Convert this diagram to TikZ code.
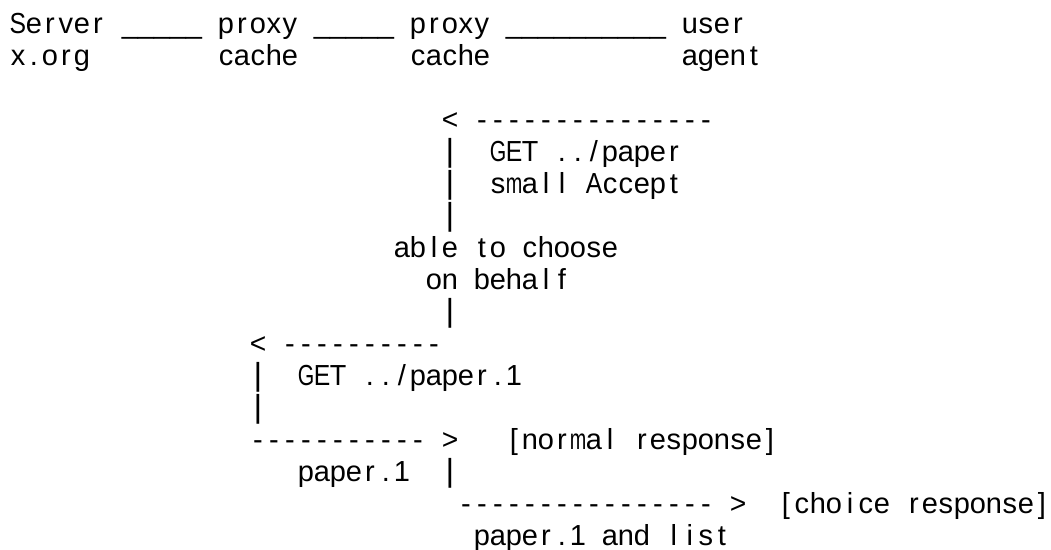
\documentclass[tikz,border=0pt]{standalone}
\usepackage{fontspec}
\usepackage{graphicx}
\setmainfont{Liberation Sans}
\newlength\cw \setlength\cw{16pt}
\newlength\maxw \setlength\maxw{16.5pt}
\newcommand\us{\textunderscore}
\newcommand\vb{\scalebox{1.15}[1.1]{|}}
\def\cellloop#1{\ifx#1\relax\else\cellbox{#1}\expandafter\cellloop\fi}
\newcommand\cells[1]{\cellloop#1\relax}
\newcommand\cellbox[1]{\ifx#1@\hbox to\cw{\hss}\else\setbox0=\hbox{#1}\ifdim\wd0>\maxw\relax\hbox to\cw{\hss\resizebox{\maxw}{\height}{#1}\hss}\else\hbox to\cw{\hss\box0\hss}\fi\fi}
\begin{document}
\begin{tikzpicture}[x=16pt,y=-32pt,
  t/.style={anchor=base west,inner sep=0pt,outer sep=0pt,font=\fontsize{29}{32}\selectfont}]
\useasboundingbox[fill=white] (-10pt,33pt) rectangle (1041pt,-516pt);
% row 0
\node[t] (server) at (0,0) {\cells{Server}};
\node[t] (l1) at (7,0) {\cells{\us\us\us\us\us}};
\node[t] (proxyA) at (13,0) {\cells{proxy}};
\node[t] (l2) at (19,0) {\cells{\us\us\us\us\us}};
\node[t] (proxyB) at (25,0) {\cells{proxy}};
\node[t] (l3) at (31,0) {\cells{\us\us\us\us\us\us\us\us\us\us}};
\node[t] (user) at (42,0) {\cells{user}};
% row 1
\node[t] (xorg) at (0,1) {\cells{x.org}};
\node[t] (cacheA) at (13,1) {\cells{cache}};
\node[t] (cacheB) at (25,1) {\cells{cache}};
\node[t] (agent) at (42,1) {\cells{agent}};
% request 1
\node[t] (lt1) at (27,3) {\cells{<}};
\node[t] (d1) at (29,3) {\cells{---------------}};
\node[t] (b1) at (27,4) {\cells{\vb}};
\node[t] (get1) at (30,4) {\cells{GET@../paper}};
\node[t] (b2) at (27,5) {\cells{\vb}};
\node[t] (acc) at (30,5) {\cells{small@Accept}};
\node[t] (b3) at (27,6) {\cells{\vb}};
\node[t] (able) at (24,7) {\cells{able@to@choose}};
\node[t] (behalf) at (26,8) {\cells{on@behalf}};
\node[t] (b4) at (27,9) {\cells{\vb}};
% request 2
\node[t] (lt2) at (15,10) {\cells{<}};
\node[t] (d2) at (17,10) {\cells{----------}};
\node[t] (b5) at (15,11) {\cells{\vb}};
\node[t] (get2) at (18,11) {\cells{GET@../paper.1}};
\node[t] (b6) at (15,12) {\cells{\vb}};
% responses
\node[t] (d3) at (15,13) {\cells{-----------}};
\node[t] (gt1) at (27,13) {\cells{>}};
\node[t] (normal) at (31,13) {\cells{[normal@response]}};
\node[t] (p1) at (18,14) {\cells{paper.1}};
\node[t] (b7) at (27,14) {\cells{\vb}};
\node[t] (d4) at (28,15) {\cells{----------------}};
\node[t] (gt2) at (45,15) {\cells{>}};
\node[t] (choice) at (48,15) {\cells{[choice@response]}};
\node[t] (p2) at (29,16) {\cells{paper.1@and@list}};
\end{tikzpicture}
\end{document}
